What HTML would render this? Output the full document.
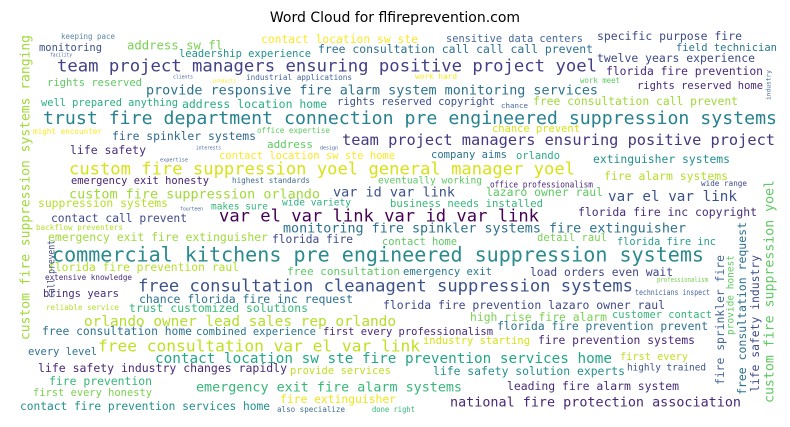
<!DOCTYPE html>
<html><head><meta charset="utf-8"><style>
html,body{margin:0;padding:0;background:#fff;}
svg{display:block;}
text{font-family:"DejaVu Sans Mono","Liberation Mono",monospace;}
</style></head><body>
<svg id="cloud" width="790" height="427" viewBox="0 0 790 427" xmlns="http://www.w3.org/2000/svg">
<rect x="0" y="0" width="790" height="427" fill="#fff"/>
<text x="395" y="22" text-anchor="middle" font-size="14" style="font-family:'DejaVu Sans','Liberation Sans',sans-serif" fill="#000">Word Cloud for flfireprevention.com</text>
<g id="words"></g>
</svg>
<script>
// [text, x, yCenter (or bottom for vertical), size, width, color, vertical]
const words = [
["team project managers ensuring positive project yoel",57,67,17,540,"#424086",0],
["trust fire department connection pre engineered suppression systems",43,119,18,734,"#26828e",0],
["commercial kitchens pre engineered suppression systems",52,256,20,652,"#2a8a8c",0],
["custom fire suppression yoel general manager yoel",69,170,17,506,"#d8e219",0],
["free consultation cleanagent suppression systems",138,287,17,495,"#3b528b",0],
["var el var link var id var link",219,217,17,320,"#440154",0],
["team project managers ensuring positive project",342,141,15,433,"#453781",0],
["free consultation var el var link",98,347,16,322,"#c2df23",0],
["contact location sw ste fire prevention services home",155,359,14,457,"#22a884",0],
["provide responsive fire alarm system monitoring services",146,91,13.4,452,"#2c728e",0],
["orlando owner lead sales rep orlando",84,322,14.4,312,"#b5de2b",0],
["emergency exit fire alarm systems",196,388,13.4,266,"#35b779",0],
["national fire protection association",450,403,13.1,291,"#482878",0],
["custom fire suppression orlando",69,195,13.4,251,"#a0da39",0],
["monitoring fire spinkler systems fire extinguisher",283,229,13.4,403,"#2c728e",0],
["var id var link",333,193,13.5,122,"#3b528b",0],
["var el var link",608,197,14.3,129,"#3b528b",0],
["keeping pace",61,37,7.6,54,"#5b86a6",0],
["monitoring",39,48,10.5,63,"#3b528b",0],
["address sw fl",127,46,12.3,96,"#7ad151",0],
["contact location sw ste",261,40,11.3,157,"#fde725",0],
["leadership experience",179,54,10.4,132,"#21918c",0],
["free consultation call call call prevent",318,50,11.4,275,"#2c728e",0],
["rights reserved",47,83,10.5,95,"#5ec962",0],
["industrial applications",246,78,7.7,106,"#46679a",0],
["well prepared anything",41,103,10.4,137,"#29af7f",0],
["address location home",182,105,11.5,145,"#27ad81",0],
["rights reserved copyright",337,102,10.5,158,"#3b528b",0],
["might encounter",33,132,7.6,69,"#fde725",0],
["office expertise",257,131,7.6,73,"#5ec962",0],
["fire spinkler systems",112,137,11.4,144,"#31688e",0],
["life safety",70,151,11.5,76,"#472d7b",0],
["address",267,145,11,46,"#5ec962",0],
["contact location sw ste home",219,156,10.4,176,"#fde725",0],
["emergency exit honesty",71,181,10.4,138,"#482475",0],
["highest standards",232,181,7.6,78,"#3e6e8e",0],
["eventually working",378,181,9.6,104,"#5ec962",0],
["suppression systems",38,204,11.4,130,"#b5de2b",0],
["makes sure",211,207,9.5,57,"#35b779",0],
["wide variety",282,203,9.6,69,"#29af7f",0],
["business needs installed",390,204,10.6,153,"#35b779",0],
["contact call prevent",51,219,11.3,136,"#3e4a89",0],
["backflow preventers",36,228,7.6,87,"#b5de2b",0],
["emergency exit fire extinguisher",48,238,11.4,220,"#a0da39",0],
["florida fire",272,240,11.2,81,"#3e4a89",0],
["contact home",382,242,10.4,75,"#5ec962",0],
["florida fire prevention raul",48,268,11.3,191,"#b5de2b",0],
["extensive knowledge",45,278,7.6,87,"#472d7b",0],
["free consultation",287,272,11,113,"#5ec962",0],
["brings years",43,294,10.5,76,"#472d7b",0],
["chance florida fire inc request",139,300,11.5,214,"#2c728e",0],
["reliable service",46,308,7.6,73,"#b5de2b",0],
["trust customized solutions",129,309,11.4,179,"#35b779",0],
["florida fire prevention lazaro owner raul",383,306,11.4,282,"#3e4a89",0],
["free consultation home",42,332,11.4,150,"#2c728e",0],
["combined experience",196,332,10.5,120,"#2a788e",0],
["first every professionalism",323,332,10.5,170,"#482878",0],
["every level",28,352,10.4,69,"#2c728e",0],
["life safety industry changes rapidly",38,369,11.5,249,"#482878",0],
["provide services",290,371,10.5,101,"#c2df23",0],
["fire prevention",49,382,11.4,103,"#35b779",0],
["first every honesty",33,393,10.4,119,"#7ad151",0],
["contact fire prevention services home",20,407,11.2,250,"#21918c",0],
["fire extinguisher",280,400,11.4,116,"#f0e51d",0],
["also specialize",277,410,7.6,68,"#3e6e8e",0],
["done right",372,410,7.6,43,"#35b779",0],
["detail raul",537,238,10.5,70,"#7ad151",0],
["florida fire inc",617,242,10.3,99,"#2a9d8f",0],
["emergency exit",403,272,10.5,89,"#2a788e",0],
["load orders even wait",530,273,11.3,143,"#414487",0],
["high rise fire alarm",470,318,11.4,137,"#7ad151",0],
["customer contact",612,315,10.4,100,"#35b779",0],
["florida fire prevention prevent",497,327,11.3,211,"#2c728e",0],
["professionalism",657,280,7,51,"#7ad151",0],
["technicians inspect",635,293,7.6,75,"#46679a",0],
["industry starting",423,341,10.4,107,"#d8e219",0],
["fire prevention systems",538,341,11.3,157,"#482878",0],
["first every",620,357,10.3,68,"#c2df23",0],
["life safety solution experts",433,372,11.4,192,"#21918c",0],
["highly trained",627,368,9.4,79,"#3b528b",0],
["leading fire alarm system",507,387,11.4,172,"#472d7b",0],
["sensitive data centers",446,39,10.4,137,"#46679a",0],
["specific purpose fire",597,37,11.5,145,"#3e4a89",0],
["field technician",676,48,10.5,101,"#2a788e",0],
["twelve years experience",597,59,11.4,158,"#3e4a89",0],
["florida fire prevention",606,72,11.4,157,"#482878",0],
["work hard",415,77,7.6,42,"#fde725",0],
["work meet",580,81,7.6,40,"#5ec962",0],
["rights reserved home",637,86,10.5,126,"#482878",0],
["free consultation call prevent",533,102,11.4,205,"#a0da39",0],
["chance",501,106,7,27,"#46679a",0],
["chance prevent",492,129,10.5,88,"#d8e219",0],
["company aims",431,155,10.5,76,"#2c728e",0],
["orlando",516,156,10.4,44,"#29af7f",0],
["extinguisher systems",593,160,11.4,137,"#21918c",0],
["fire alarm systems",604,177,11.4,124,"#b5de2b",0],
["office professionalism",490,185,8.4,103,"#482878",0],
["wide range",701,184,7.6,46,"#3e4a89",0],
["lazaro owner raul",486,193,11.4,117,"#5ec962",0],
["florida fire inc copyright",578,213,11.4,179,"#472d7b",0],
["facility",50,55,5,22,"#46679a",0],
["clients",173,77,5,20,"#46679a",0],
["products",213,81,5,23,"#fde725",0],
["interests",196,148,5,25,"#46679a",0],
["design",320,148,5,18,"#46679a",0],
["expertise",160,160,5,28,"#46679a",0],
["fourteen",180,209,5,23,"#46679a",0],
["custom fire suppression systems ranging",26,340,13,305,"#a0da39",1],
["call prevent",52,298,10,58,"#3e4a89",1],
["fire sprinkler fire",721,385,11.4,130,"#46679a",1],
["provide honest",731,335,9.5,80,"#5ec962",1],
["free consultation request",743,395,11.5,173,"#2c728e",1],
["life safety industry",756,392,11.4,137,"#3e4a89",1],
["custom fire suppression yoel",770,403,13.2,223,"#5ec962",1],
["industry",769,100,6,30,"#46679a",1]
];
const g = document.getElementById('words');
const NS = "http://www.w3.org/2000/svg";
for (const w of words) {
  const t = document.createElementNS(NS, 'text');
  
  
  const [txt, x, y, s, wd, col, v] = w;
  t.setAttribute('font-size', s);
  t.setAttribute('fill', col);
  t.setAttribute('textLength', wd);
  t.setAttribute('lengthAdjust', 'spacingAndGlyphs');
  if (v) {
    const bx = x + 0.27 * s;
    t.setAttribute('x', bx);
    t.setAttribute('y', y);
    t.setAttribute('transform', 'rotate(-90 ' + bx + ' ' + y + ')');
  } else {
    t.setAttribute('x', x);
    t.setAttribute('y', y + 0.27 * s);
  }
  t.textContent = txt;
  g.appendChild(t);
}
</script>
</body></html>
